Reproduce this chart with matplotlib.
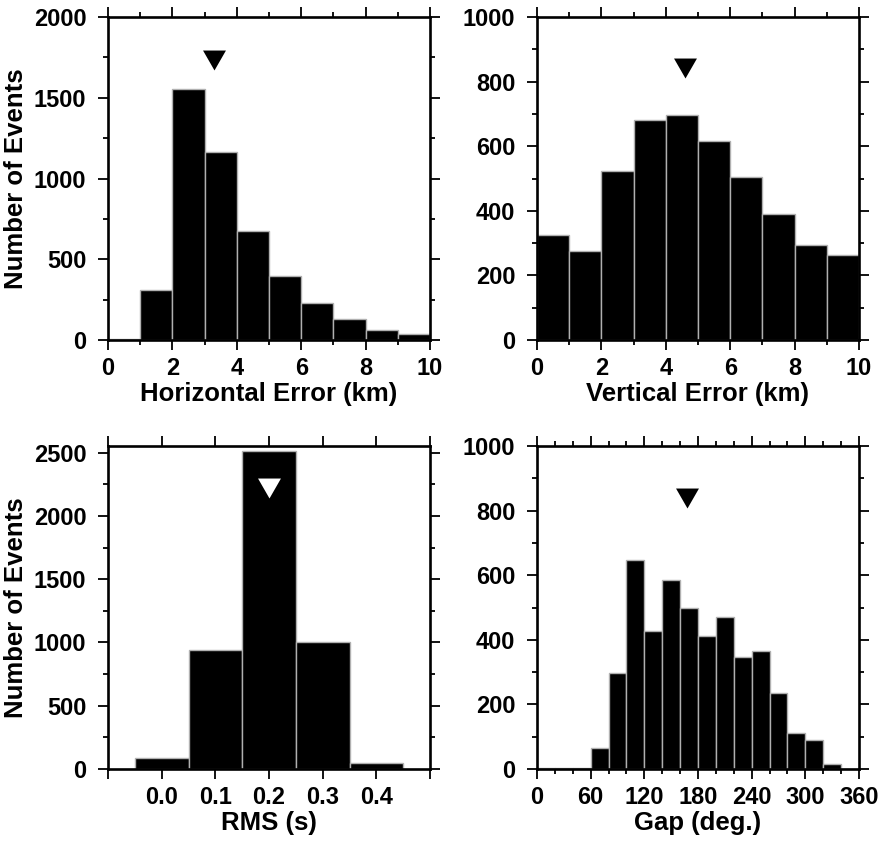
import matplotlib
matplotlib.use("Agg")
import matplotlib.pyplot as plt
import numpy as np
from matplotlib.ticker import MultipleLocator

plt.rcParams['font.family'] = ['Liberation Sans', 'DejaVu Sans']
plt.rcParams['font.weight'] = 'bold'

# Horizontal error histogram (1 km bins)
herr_edges = np.arange(0, 11, 1)
herr_counts = [8, 310, 1554, 1163, 676, 395, 227, 128, 62, 37]
herr_median = (3.3, 1731)

# Vertical error histogram (1 km bins)
verr_edges = np.arange(0, 11, 1)
verr_counts = [325, 277, 522, 680, 697, 615, 506, 389, 295, 264]
verr_median = (4.6, 841)

# RMS histogram (0.1 s bins centred on 0.0 .. 0.4)
rms_edges = np.array([-0.05, 0.05, 0.15, 0.25, 0.35, 0.45])
rms_counts = [90, 941, 2511, 1002, 45]
rms_median = (0.2, 2223)

# Azimuthal gap histogram (20 deg bins)
gap_edges = np.arange(0, 361, 20)
gap_counts = [2, 2, 3, 64, 296, 647, 428, 585, 500, 412, 470, 348, 365, 236, 111, 89, 14, 1]
gap_median = (168, 838)

tri = [(-1, 0.87), (1, 0.87), (0, -0.87)]


def hist_panel(ax, edges, counts, xlim, ylim, xmaj, xmin, ymaj, ymin, xlabel,
               median, tri_color='black', xfmt=None, ylabel=None):
    edges = np.asarray(edges, dtype=float)
    ax.bar(edges[:-1], counts, width=np.diff(edges), align='edge',
           color='black', edgecolor='#b0b0b0', linewidth=1.0, zorder=2)
    ax.plot(median[0], median[1], marker=tri, ms=16.5, color=tri_color,
            mec=tri_color, mew=0, ls='none', zorder=4)
    ax.set_xlim(*xlim)
    ax.set_ylim(*ylim)
    ax.xaxis.set_major_locator(MultipleLocator(xmaj))
    if xmin:
        ax.xaxis.set_minor_locator(MultipleLocator(xmin))
    ax.yaxis.set_major_locator(MultipleLocator(ymaj))
    ax.yaxis.set_minor_locator(MultipleLocator(ymin))
    if xfmt:
        ax.xaxis.set_major_formatter(xfmt)
    ax.tick_params(which='both', direction='out', top=True, right=True,
                   width=1.3, labelsize=17)
    ax.tick_params(which='major', length=7.5)
    ax.tick_params(which='minor', length=3.5)
    ax.tick_params(axis='x', pad=5)
    ax.tick_params(axis='y', pad=8)
    for s in ax.spines.values():
        s.set_linewidth(1.9)
        s.set_zorder(5)
    for lab in ax.get_xticklabels() + ax.get_yticklabels():
        lab.set_fontweight('bold')
    ax.set_xlabel(xlabel, fontsize=18.5, fontweight='bold', labelpad=1)
    if ylabel:
        ax.set_ylabel(ylabel, fontsize=18.5, fontweight='bold', labelpad=4)


fig = plt.figure(figsize=(8.83, 8.43), dpi=100)
W, H = 883, 843


def make_axes(left, top, right, bottom):
    return fig.add_axes([left / W, 1 - bottom / H, (right - left) / W, (bottom - top) / H])


ax1 = make_axes(108, 17, 430, 340)
ax2 = make_axes(537, 17, 859, 340)
ax3 = make_axes(108, 446, 430, 769)
ax4 = make_axes(537, 446, 859, 769)

hist_panel(ax1, herr_edges, herr_counts, (0, 10), (0, 2000), 2, 1, 500, 250,
           'Horizontal Error (km)', herr_median, ylabel='Number of Events')
hist_panel(ax2, verr_edges, verr_counts, (0, 10), (0, 1000), 2, 1, 200, 100,
           'Vertical Error (km)', verr_median)
hist_panel(ax3, rms_edges, rms_counts, (-0.1, 0.5), (0, 2553), 0.1, None, 500, 250,
           'RMS (s)', rms_median, tri_color='white',
           xfmt=plt.FuncFormatter(lambda v, p: f"{v:.1f}" if -0.01 < v < 0.45 else ""),
           ylabel='Number of Events')
hist_panel(ax4, gap_edges, gap_counts, (0, 360), (0, 1000), 60, 20, 200, 100,
           'Gap (deg.)', gap_median)

fig.savefig('out.png', dpi=100)
